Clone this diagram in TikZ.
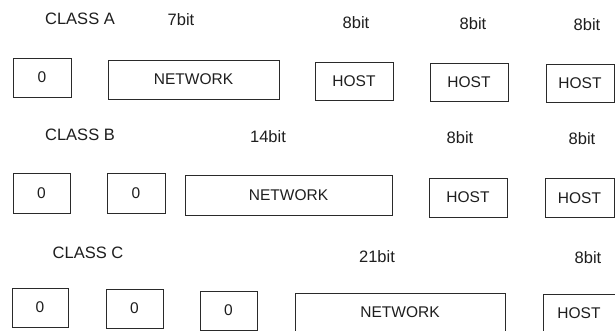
\documentclass[tikz,border=0pt]{standalone}
\usepackage{fontspec}
\setmainfont{Liberation Sans}
\usepackage{xcolor}
\definecolor{Ink}{HTML}{1E1E1E}
\definecolor{Frame}{HTML}{2A2A2A}
\begin{document}
\begin{tikzpicture}[x=1pt,y=-1pt,
  field/.style={draw=Frame,line width=0.9pt,inner sep=0pt,minimum height=39pt,font=\fontsize{15.5}{17}\selectfont,text=Ink},
  lbl/.style={inner sep=0pt,font=\fontsize{16.5}{18}\selectfont,text=Ink}]
\clip (0,0) rectangle (615,330);
\fill[white] (0,0) rectangle (615,330);
% class A
\node[lbl] (clsA) at (80,19) {CLASS A};
\node[lbl] (bitsA) at (181,20) {7bit};
\node[lbl] (bitsA1) at (356,23) {8bit};
\node[lbl] (bitsA2) at (473,24) {8bit};
\node[lbl] (bitsA3) at (587,25) {8bit};
\node[field,minimum width=58pt] (a0) at (42,77.5) {0};
\node[field,minimum width=171pt] (anet) at (193.5,79.5) {NETWORK};
\node[field,minimum width=78pt,minimum height=38pt] (ahost1) at (354,81) {HOST};
\node[field,minimum width=78pt,minimum height=38pt] (ahost2) at (469,82) {HOST};
\node[field,minimum width=68pt,minimum height=38pt] (ahost3) at (580,83) {HOST};
% class B
\node[lbl] (clsB) at (80,135) {CLASS B};
\node[lbl] (bitsB) at (268,137) {14bit};
\node[lbl] (bitsB1) at (460,138) {8bit};
\node[lbl] (bitsB2) at (582,139) {8bit};
\node[field,minimum width=57pt,minimum height=40pt] (b0) at (41.5,193) {0};
\node[field,minimum width=58pt,minimum height=40pt] (b1) at (136,193.5) {0};
\node[field,minimum width=207pt,minimum height=40pt] (bnet) at (288.5,195) {NETWORK};
\node[field,minimum width=78pt] (bhost1) at (468,197.5) {HOST};
\node[field,minimum width=69pt] (bhost2) at (579.5,198) {HOST};
% class C
\node[lbl] (clsC) at (88,253) {CLASS C};
\node[lbl] (bitsC) at (377,257) {21bit};
\node[lbl] (bitsC1) at (588,258) {8bit};
\node[field,minimum width=56pt] (c0) at (40,307.5) {0};
\node[field,minimum width=57pt] (c1) at (134.5,308.5) {0};
\node[field,minimum width=57pt] (c2) at (228.5,310.5) {0};
\node[field,minimum width=210pt,minimum height=38pt] (cnet) at (400,312) {NETWORK};
\node[field,minimum width=72pt,minimum height=38pt] (chost) at (579,313) {HOST};
\end{tikzpicture}
\end{document}
